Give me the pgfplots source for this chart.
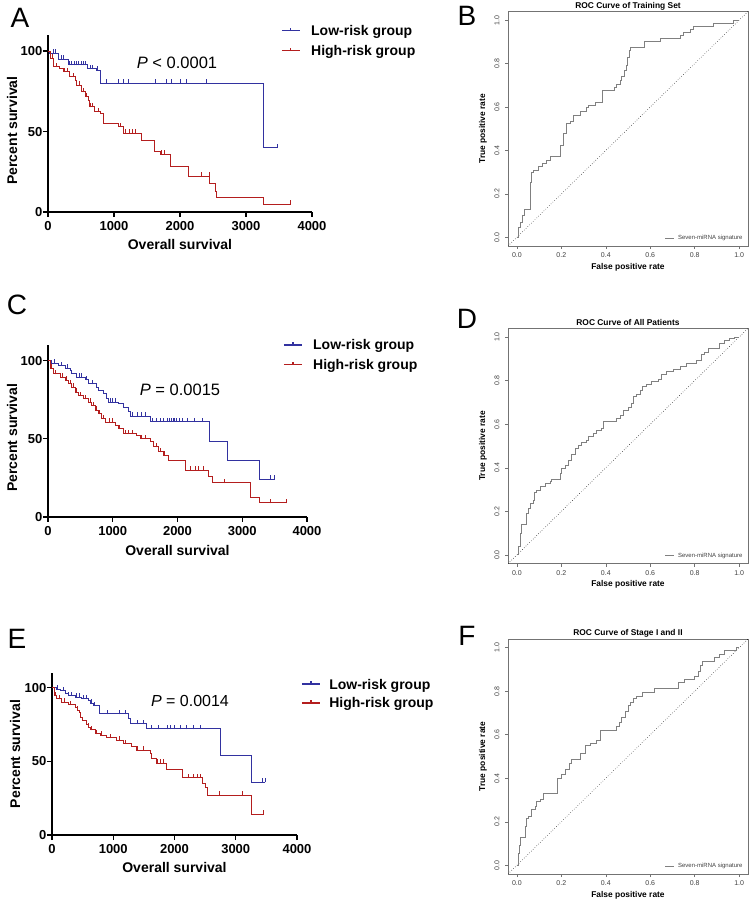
\documentclass[border=0pt]{standalone}
\usepackage{fontspec}
\setmainfont{Liberation Sans}
\usepackage{pgfplots}
\pgfplotsset{compat=1.18}
\definecolor{lowc}{RGB}{50,50,160}
\definecolor{highc}{RGB}{180,30,30}
\definecolor{rocc}{RGB}{128,128,128}
\pgfdeclareplotmark{cens}{\pgfpathmoveto{\pgfqpoint{0pt}{-0.5pt}}\pgfpathlineto{\pgfqpoint{0pt}{4pt}}\pgfusepathqstroke}
\pgfplotsset{
  km/.style={scale only axis, xmin=0, xmax=4000, ymin=0, ymax=110,
    axis x line*=bottom, axis y line*=left,
    xtick={0,1000,2000,3000,4000}, ytick={0,50,100},
    tick align=outside, major tick length=5pt,
    tick style={black, line width=1.2pt},
    axis line style={black, line width=1.3pt},
    /pgf/number format/assume math mode=true,
    /pgf/number format/1000 sep={},
    ticklabel style={font=\bfseries\fontsize{13}{13}\selectfont},
    xticklabel style={inner sep=0pt}, xticklabel shift=4.7pt,
    yticklabel style={inner sep=0pt}, yticklabel shift=0.5pt,
    xlabel={Overall survival}, ylabel={Percent survival},
    label style={font=\bfseries\fontsize{14}{14}\selectfont},
    clip=false},
  censl/.style={only marks, mark=cens, lowc, mark options={line width=0.9pt}, forget plot},
  censh/.style={only marks, mark=cens, highc, mark options={line width=0.9pt}, forget plot},
  roc/.style={scale only axis, width=240pt, xmin=-0.04, xmax=1.04, ymin=-0.04, ymax=1.04,
    axis line style={draw=black!55, line width=0.7pt},
    xtick={0,0.2,0.4,0.6,0.8,1}, ytick={0,0.2,0.4,0.6,0.8,1},
    xticklabels={0.0,0.2,0.4,0.6,0.8,1.0}, yticklabels={0.0,0.2,0.4,0.6,0.8,1.0},
    tick pos=left, tick align=outside, major tick length=3pt,
    tick style={black!55, line width=0.5pt},
    ticklabel style={font=\fontsize{7}{7}\selectfont, text=black!75},
    xticklabel style={inner sep=0pt}, xticklabel shift=3.8pt,
    yticklabel style={rotate=90, anchor=south, inner sep=0pt}, yticklabel shift=5.3pt,
    xlabel={False positive rate}, ylabel={True positive rate},
    label style={font=\bfseries\fontsize{8.4}{8.4}\selectfont},
    xlabel style={at={(axis description cs:0.5,-0.089)}, anchor=center},
    ylabel style={at={(axis description cs:-0.104,0.5)}, anchor=center},
    every axis title/.style={at={(axis description cs:0.5,1)}, anchor=base, yshift=3pt, inner sep=0pt,
      font=\bfseries\fontsize{8.4}{8.4}\selectfont},
    legend style={draw=none, fill=none, inner sep=0pt, outer sep=0pt,
      at={(axis description cs:0.979,0.034)}, anchor=east,
      font=\fontsize{6}{6.5}\selectfont, text=black!75, nodes={inner sep=0.5pt},
      /tikz/every odd column/.append style={column sep=3pt}},
    legend image code/.code={\draw[rocc,line width=0.8pt] (0pt,0pt) -- (9pt,0pt);}},
  rocline/.style={const plot, rocc, line width=1pt},
  diag/.style={black, dotted, line width=0.5pt, forget plot}
}
\tikzset{legtxt/.style={anchor=base west, inner sep=0pt, font=\bfseries\fontsize{14}{14}\selectfont}}
\begin{document}
\begin{tikzpicture}
\path[use as bounding box] (0pt,0pt) rectangle (750pt,903pt);

% ---------------- A ----------------
\begin{axis}[km, at={(48pt,691pt)}, width=264pt, height=177pt,
  xlabel style={at={(axis description cs:0.5,-0.186)}, anchor=center},
  ylabel style={at={(axis description cs:-0.136,0.46)}, anchor=center}]
\addplot[const plot, lowc, line width=0.9pt] coordinates {
(0,100) (20,98.5) (160,94.8) (310,91.5) (600,89) (740,88) (790,80) (3265,40) (3480,40)};
\addplot[const plot, highc, line width=0.9pt] coordinates {
(0,100) (30,95.4) (80,90.3) (180,89.2) (230,87.2) (330,84) (410,82) (435,78.9) (510,74.7)
(560,71.6) (610,69.6) (635,65.4) (710,62.3) (790,61.3) (840,55.1) (1066,53) (1140,48.9)
(1420,44.7) (1620,37.5) (1700,36) (1850,28.2) (2130,22.4) (2450,17.9) (2530,12.6)
(2545,8.9) (3263,4.8) (3680,4.8)};
\addplot[censl] coordinates {
(90,98.5) (120,98.5) (200,94.8) (230,94.8) (330,91.5) (360,91.5) (400,91.5) (430,91.5)
(460,91.5) (500,91.5) (530,91.5) (560,91.5) (640,89) (680,89) (750,88) (890,80) (1066,80)
(1141,80) (1217,80) (1621,80) (1798,80) (1874,80) (2000,80) (2101,80) (2404,80) (3480,40)};
\addplot[censh] coordinates {
(60,95.4) (130,90.3) (250,87.2) (300,87.2) (380,84) (470,78.9) (540,74.7) (590,71.6)
(650,65.4) (680,65.4) (760,62.3) (1100,53) (1180,48.9) (1230,48.9) (1280,48.9) (1330,48.9)
(1720,36) (1760,36) (2320,22.4) (2440,22.4) (3680,4.8)};
\draw[lowc, line width=1.1pt] (axis description cs:0.886,1.023) -- (axis description cs:0.955,1.023);
\draw[lowc, line width=1.1pt] (axis description cs:0.920,1.023) -- ++(0pt,3pt);
\draw[highc, line width=1.1pt] (axis description cs:0.886,0.910) -- (axis description cs:0.955,0.910);
\draw[highc, line width=1.1pt] (axis description cs:0.920,0.910) -- ++(0pt,3pt);
\node[legtxt] at ([yshift=-5pt]axis description cs:0.996,1.023) {Low-risk group};
\node[legtxt] at ([yshift=-5pt]axis description cs:0.996,0.910) {High-risk group};
\node[font=\fontsize{16.5}{18}\selectfont] at (axis cs:1955,93) {\textit{P} < 0.0001};
\end{axis}

% ---------------- C ----------------
\begin{axis}[km, at={(48pt,386pt)}, width=259pt, height=172pt,
  xlabel style={at={(axis description cs:0.5,-0.192)}, anchor=center},
  ylabel style={at={(axis description cs:-0.139,0.46)}, anchor=center}]
\addplot[const plot, lowc, line width=0.9pt] coordinates {
(0,100) (57,98.3) (160,96.8) (263,95.3) (340,93.6) (366,91.5) (443,89.4) (571,87.7)
(623,85.2) (752,82.6) (777,80.9) (854,78.8) (906,75.6) (931,73.4) (1086,72.4) (1163,70.3)
(1240,67.7) (1277,64.5) (1575,61) (2491,48.5) (2769,36.3) (3264,24) (3490,24)};
\addplot[const plot, highc, line width=0.9pt] coordinates {
(0,100) (31,95.3) (82,91.5) (185,89.4) (263,87.3) (314,85.2) (366,83) (417,79.8) (468,77.7)
(546,75.6) (623,73.4) (675,71.3) (726,68.2) (777,66) (829,62.9) (880,60.7) (1035,58.6)
(1086,56.5) (1163,53.3) (1369,52.2) (1421,50.1) (1575,48) (1627,44.8) (1704,41.6)
(1781,39.5) (1858,36.3) (2116,29.9) (2476,25.7) (2543,21.8) (3130,12.5) (3264,9.1) (3676,9.1)};
\addplot[censl] coordinates {
(100,98.3) (200,96.8) (300,95.3) (480,89.4) (520,89.4) (600,87.7) (680,85.2) (960,73.4)
(1000,73.4) (1040,73.4) (1300,64.5) (1380,64.5) (1440,64.5) (1500,64.5) (1620,61) (1680,61)
(1740,61) (1790,61) (1840,61) (1870,61) (1900,61) (1930,61) (1960,61) (1990,61) (2030,61)
(2080,61) (2150,61) (2260,61) (2380,61) (3440,24) (3490,24)};
\addplot[censh] coordinates {
(50,95.3) (120,91.5) (220,89.4) (290,87.3) (340,85.2) (390,83) (440,79.8) (500,77.7)
(580,75.6) (650,73.4) (700,71.3) (750,68.2) (800,66) (850,62.9) (950,60.7) (1000,60.7)
(1100,56.5) (1200,53.3) (1250,53.3) (1300,53.3) (1450,50.1) (1500,50.1) (1680,44.8)
(1740,41.6) (1800,39.5) (2200,29.9) (2270,29.9) (2330,29.9) (2400,29.9) (2730,21.8)
(3440,9.1) (3676,9.1)};
\draw[lowc, line width=1.1pt] (axis description cs:0.911,1.000) -- (axis description cs:0.981,1.000);
\draw[lowc, line width=1.1pt] (axis description cs:0.946,1.000) -- ++(0pt,3pt);
\draw[highc, line width=1.1pt] (axis description cs:0.911,0.884) -- (axis description cs:0.981,0.884);
\draw[highc, line width=1.1pt] (axis description cs:0.946,0.884) -- ++(0pt,3pt);
\node[legtxt] at ([yshift=-5pt]axis description cs:1.023,1.000) {Low-risk group};
\node[legtxt] at ([yshift=-5pt]axis description cs:1.023,0.884) {High-risk group};
\node[font=\fontsize{16.5}{18}\selectfont] at (axis cs:2039,81.5) {\textit{P} = 0.0015};
\end{axis}

% ---------------- E ----------------
\begin{axis}[km, at={(52pt,68pt)}, width=245pt, height=162pt,
  xlabel style={at={(axis description cs:0.5,-0.198)}, anchor=center},
  ylabel style={at={(axis description cs:-0.151,0.5)}, anchor=center}]
\addplot[const plot, lowc, line width=0.9pt] coordinates {
(0,100) (76,99.1) (131,98) (212,96.2) (267,94.6) (376,93.5) (484,92.4) (593,91.2) (620,89.4)
(675,87.8) (773,82.2) (1246,78.8) (1273,75.5) (1546,72.1) (2754,54.1) (3260,36) (3478,36)};
\addplot[const plot, highc, line width=0.9pt] coordinates {
(0,100) (33,94.6) (76,92.4) (158,90.1) (267,88.5) (376,86.7) (414,84.9) (441,83.3)
(457,79.9) (501,77.7) (555,75.3) (593,73.2) (631,71.4) (702,68.7) (784,67.6) (893,66)
(1056,64.2) (1164,62) (1301,60.1) (1382,57.4) (1600,55.2) (1627,51.8) (1698,48.9)
(1861,44.4) (2134,39) (2460,35.3) (2498,32.6) (2536,27) (3260,14) (3450,14)};
\addplot[censl] coordinates {
(90,99.1) (180,98) (270,94.6) (320,94.6) (400,93.5) (450,93.5) (520,92.4) (560,92.4)
(640,89.4) (700,87.8) (900,82.2) (1100,82.2) (1200,82.2) (1400,75.5) (1500,75.5)
(1620,72.1) (1740,72.1) (1880,72.1) (1930,72.1) (2000,72.1) (2100,72.1) (2200,72.1)
(2310,72.1) (2420,72.1) (3440,36) (3478,36)};
\addplot[censh] coordinates {
(50,94.6) (120,92.4) (200,90.1) (300,88.5) (420,84.9) (600,73.2) (650,71.4) (720,68.7)
(800,67.6) (950,66) (1100,64.2) (1200,62) (1400,57.4) (1500,57.4) (1720,48.9) (1770,48.9)
(1820,48.9) (2230,39) (2310,39) (2370,39) (2420,39) (2730,27) (3110,27) (3450,14)};
\draw[lowc, line width=1.1pt] (axis description cs:1.020,0.932) -- (axis description cs:1.094,0.932);
\draw[lowc, line width=1.1pt] (axis description cs:1.057,0.932) -- ++(0pt,3pt);
\draw[highc, line width=1.1pt] (axis description cs:1.020,0.815) -- (axis description cs:1.094,0.815);
\draw[highc, line width=1.1pt] (axis description cs:1.057,0.815) -- ++(0pt,3pt);
\node[legtxt] at ([yshift=-5pt]axis description cs:1.131,0.932) {Low-risk group};
\node[legtxt] at ([yshift=-5pt]axis description cs:1.131,0.815) {High-risk group};
\node[font=\fontsize{16}{18}\selectfont] at (axis cs:2253,91.2) {\textit{P} = 0.0014};
\end{axis}

% ---------------- B ----------------
\begin{axis}[roc, at={(508pt,657pt)}, height=234.5pt, title={ROC Curve of Training Set}]
\addplot[diag] coordinates {(-0.04,-0.04) (1.04,1.04)};
\addplot[rocline] coordinates {
(0,0) (0.0075,0.046) (0.015,0.07) (0.027,0.1) (0.034,0.13) (0.06,0.254) (0.067,0.3)
(0.075,0.308) (0.097,0.326) (0.117,0.338) (0.135,0.354) (0.15,0.37) (0.195,0.423)
(0.21,0.48) (0.225,0.523) (0.24,0.535) (0.254,0.56) (0.284,0.58) (0.314,0.597)
(0.322,0.608) (0.352,0.623) (0.386,0.677) (0.437,0.69) (0.449,0.705) (0.464,0.72)
(0.472,0.74) (0.482,0.766) (0.491,0.792) (0.497,0.83) (0.506,0.862) (0.512,0.874)
(0.572,0.9) (0.644,0.915) (0.737,0.93) (0.749,0.943) (0.781,0.957) (0.796,0.972)
(0.883,0.985) (0.976,1.0) (1.0,1.0)};
\addlegendentry{Seven-miRNA signature}
\end{axis}

% ---------------- D ----------------
\begin{axis}[roc, at={(508pt,339.3pt)}, height=235.4pt, title={ROC Curve of All Patients}]
\addplot[diag] coordinates {(-0.04,-0.04) (1.04,1.04)};
\addplot[rocline] coordinates {
(0,0) (0.0075,0.038) (0.015,0.1) (0.022,0.142) (0.045,0.19) (0.052,0.214) (0.06,0.234)
(0.075,0.252) (0.078,0.285) (0.09,0.298) (0.105,0.316) (0.127,0.328) (0.15,0.336)
(0.157,0.347) (0.195,0.374) (0.202,0.397) (0.217,0.412) (0.232,0.435) (0.247,0.463)
(0.262,0.489) (0.277,0.5) (0.292,0.515) (0.314,0.527) (0.322,0.545) (0.344,0.557)
(0.359,0.569) (0.382,0.58) (0.389,0.611) (0.449,0.626) (0.464,0.641) (0.479,0.664)
(0.501,0.676) (0.516,0.695) (0.524,0.725) (0.539,0.737) (0.554,0.756) (0.566,0.774)
(0.584,0.783) (0.606,0.794) (0.636,0.805) (0.651,0.829) (0.674,0.84) (0.704,0.85)
(0.734,0.863) (0.763,0.878) (0.808,0.893) (0.831,0.92) (0.846,0.931) (0.861,0.947)
(0.913,0.969) (0.936,0.982) (0.958,0.992) (0.981,1.0) (1.0,1.0)};
\addlegendentry{Seven-miRNA signature}
\end{axis}

% ---------------- F ----------------
\begin{axis}[roc, at={(508pt,29pt)}, height=235pt, title={ROC Curve of Stage I and II}]
\addplot[diag] coordinates {(-0.04,-0.04) (1.04,1.04)};
\addplot[rocline] coordinates {
(0,0) (0.0075,0.054) (0.012,0.092) (0.015,0.13) (0.037,0.177) (0.045,0.215) (0.052,0.223)
(0.067,0.257) (0.082,0.272) (0.09,0.292) (0.105,0.303) (0.12,0.328) (0.183,0.4)
(0.202,0.415) (0.217,0.438) (0.237,0.469) (0.247,0.488) (0.284,0.512) (0.307,0.549)
(0.329,0.562) (0.359,0.574) (0.374,0.62) (0.449,0.638) (0.461,0.657) (0.472,0.677)
(0.487,0.708) (0.501,0.734) (0.512,0.749) (0.524,0.768) (0.539,0.777) (0.566,0.792)
(0.621,0.814) (0.726,0.838) (0.756,0.854) (0.801,0.866) (0.816,0.892) (0.826,0.918)
(0.835,0.938) (0.891,0.954) (0.913,0.968) (0.936,0.985) (0.988,1.0) (1.0,1.0)};
\addlegendentry{Seven-miRNA signature}
\end{axis}

% panel letters
\node[font=\fontsize{28}{28}\selectfont] at (20pt,885pt) {A};
\node[font=\fontsize{28}{28}\selectfont] at (467pt,887pt) {B};
\node[font=\fontsize{28}{28}\selectfont] at (17pt,598pt) {C};
\node[font=\fontsize{28}{28}\selectfont] at (467pt,584pt) {D};
\node[font=\fontsize{28}{28}\selectfont] at (17pt,264pt) {E};
\node[font=\fontsize{28}{28}\selectfont] at (467pt,267pt) {F};
\end{tikzpicture}
\end{document}
